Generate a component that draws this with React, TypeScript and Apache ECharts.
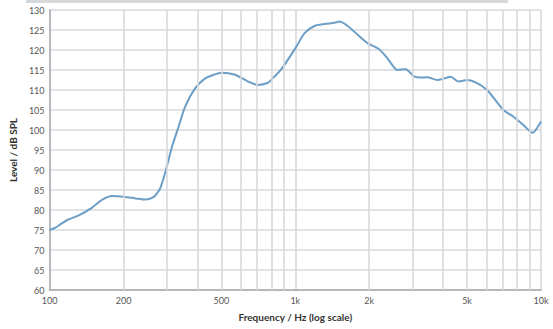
import React, { useEffect, useRef } from "react";
import * as echarts from "echarts";

const freqs = [
  100, 105, 110, 118, 132, 149, 164, 180, 201, 224, 245, 265, 274, 282, 296, 315, 335, 356, 391, 430, 470, 501,
  568, 643, 706, 775, 800, 878, 1000, 1091, 1197, 1314, 1443, 1512, 1634, 1794, 1969, 2194, 2373, 2605, 2814,
  3041, 3236, 3445, 3783, 4000, 4284, 4625, 5003, 5495, 6030, 6515, 7036, 7724, 8478, 9252, 9616, 10000,
];
const levels = [
  75, 75.5, 76.3, 77.5, 78.7, 80.6, 82.6, 83.5, 83.3, 82.9, 82.6, 83.2, 84.2, 85.4, 89.5, 95.8, 100.8, 105.8,
  110.4, 112.9, 113.9, 114.3, 113.8, 112.1, 111.25, 111.8, 112.6, 115.2, 120.4, 124.2, 126, 126.5, 126.8, 127.1,
  126, 123.8, 121.7, 120.2, 117.9, 115, 115.2, 113.4, 113.1, 113.2, 112.5, 112.8, 113.3, 112.1, 112.5, 111.7,
  110, 107.5, 105, 103.3, 101.25, 99.3, 100.4, 102.1,
];
const gridFreqs = [200, 300, 400, 500, 600, 700, 800, 900, 2000, 3000, 4000, 5000, 6000, 7000, 8000, 9000];
const labelledGridFreqs = [200, 500, 2000, 5000];
const xTickLabels: Record<number, string> = { 100: "100", 200: "200", 500: "500", 1000: "1k", 2000: "2k", 5000: "5k", 10000: "10k" };

const FONT = "Lato, 'Liberation Sans', sans-serif";
const GRID_COLOR = "#d6d9dc";

export default function App() {
  const ref = useRef<HTMLDivElement>(null);
  useEffect(() => {
    if (!ref.current) return;
    const chart = echarts.init(ref.current, undefined, { renderer: "svg" });
    chart.setOption({
      animation: false,
      backgroundColor: "#ffffff",
      graphic: [
        { type: "rect", shape: { x: 26, y: 0, width: 482, height: 3 }, style: { fill: "#d6d9dc" } },
      ],
      grid: { left: 47, right: 12, top: 10, bottom: 39 },
      xAxis: {
        type: "log",
        logBase: 10,
        min: 100,
        max: 10000,
        name: "Frequency / Hz (log scale)",
        nameLocation: "middle",
        nameGap: 22,
        nameTextStyle: { fontFamily: FONT, fontWeight: "bold", fontSize: 10, color: "#333" },
        axisLine: { show: true, lineStyle: { color: "#b5b9bd", width: 2 } },
        axisTick: { show: false },
        axisLabel: {
          margin: 6,
          fontFamily: FONT,
          fontSize: 9,
          color: "#555",
          formatter: (v: number) => xTickLabels[Math.round(v)] ?? "",
        },
        splitLine: { show: true, lineStyle: { color: GRID_COLOR, width: 1.6 } },
      },
      yAxis: {
        type: "value",
        min: 60,
        max: 130,
        interval: 5,
        name: "Level / dB SPL",
        nameLocation: "middle",
        nameGap: 25,
        nameTextStyle: { fontFamily: FONT, fontWeight: "bold", fontSize: 10, color: "#333" },
        axisLine: { show: true, lineStyle: { color: "#b5b9bd", width: 2 } },
        axisTick: { show: false },
        axisLabel: { margin: 5, fontFamily: FONT, fontSize: 9, color: "#555" },
        splitLine: { show: true, lineStyle: { color: GRID_COLOR, width: 1.6 } },
      },
      series: [
        {
          type: "line",
          data: [],
          z: 1,
          silent: true,
          markLine: {
            silent: true,
            symbol: "none",
            animation: false,
            lineStyle: { color: GRID_COLOR, width: 1.6, type: "solid" },
            label: { show: false },
            data: gridFreqs.map((f) => ({
              xAxis: f,
              label: labelledGridFreqs.includes(f)
                ? {
                    show: true,
                    position: "start",
                    distance: 6,
                    formatter: xTickLabels[f],
                    fontFamily: FONT,
                    fontSize: 9,
                    color: "#555",
                  }
                : { show: false },
            })),
          },
        },
        {
          type: "line",
          z: 3,
          data: freqs.map((f, i) => [f, levels[i]]),
          showSymbol: false,
          smooth: 0.25,
          lineStyle: { color: "#6d9ec6", width: 2 },
        },
      ],
    });
    return () => chart.dispose();
  }, []);
  return <div ref={ref} style={{ position: "fixed", left: 0, top: 0, width: 553, height: 329 }} />;
}
